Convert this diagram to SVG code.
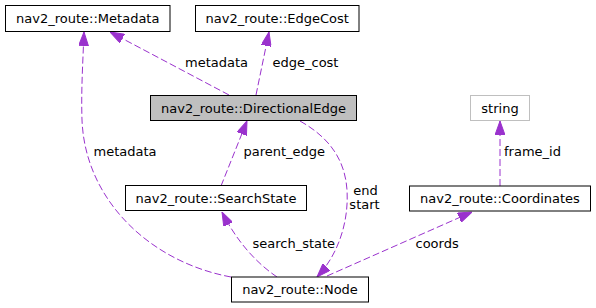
<svg xmlns="http://www.w3.org/2000/svg" width="596" height="308" viewBox="0 0 596 308">
<style>
.box{fill:#ffffff;stroke:#000000;stroke-width:1}
.hl{fill:#bfbfbf;stroke:#000000;stroke-width:1}
.ext{fill:#ffffff;stroke:#bfbfbf;stroke-width:1}
text{font-family:"DejaVu Sans",sans-serif;font-size:13px;fill:#000000}
.c{text-anchor:middle}
.e{fill:none;stroke:#9a32cd;stroke-width:1;stroke-dasharray:7,3;marker-end:url(#ah)}
</style>
<defs>
<marker id="ah" viewBox="0 0 14 10" refX="14" refY="5" markerWidth="14" markerHeight="10" markerUnits="userSpaceOnUse" orient="auto">
<path d="M0,0 L14,5 L0,10 Z" fill="#9a32cd" stroke="#9a32cd" stroke-width="1"/>
</marker>
</defs>
<rect width="596" height="308" fill="#ffffff"/>
<g id="connectors">
<path class="e" d="M229,95 L110,32"/>
<text x="185" y="66.5">metadata</text>
<path class="e" d="M256,95 L269,32"/>
<text x="272.5" y="66.5">edge_cost</text>
<path class="e" d="M221,186 L247,121"/>
<text x="243.5" y="156">parent_edge</text>
<path class="e" d="M277,277 C255,262 236,240 222,212"/>
<text x="252.5" y="247.5">search_state</text>
<path class="e" d="M231,277 C150,262 85,200 82,120 C81,90 83,60 84,32"/>
<text x="93.5" y="156">metadata</text>
<path class="e" d="M300,121 C330,138 345,160 347,190 C349,222 338,255 317,277"/>
<text class="c" x="365.5" y="195">end</text>
<text class="c" x="364.5" y="209">start</text>
<path class="e" d="M327,276 L472,212"/>
<text x="415.5" y="247.5">coords</text>
<path class="e" d="M500,186 L500,121"/>
<text x="504" y="156">frame_id</text>
</g>
<g id="node-metadata">
<rect class="box" x="5.5" y="5.5" width="164.5" height="26"/>
<text class="c" x="87.75" y="22.5">nav2_route::Metadata</text>
</g>
<g id="node-edgecost">
<rect class="box" x="195.5" y="5.5" width="163.5" height="26"/>
<text class="c" x="277.25" y="22.5">nav2_route::EdgeCost</text>
</g>
<g id="node-directionaledge">
<rect class="hl" x="150.5" y="95.5" width="206" height="25"/>
<text class="c" x="253.5" y="112.5">nav2_route::DirectionalEdge</text>
</g>
<g id="node-string">
<rect class="ext" x="470.5" y="95.5" width="59" height="25"/>
<text class="c" x="500" y="112.5">string</text>
</g>
<g id="node-searchstate">
<rect class="box" x="125.5" y="185.5" width="181" height="25"/>
<text class="c" x="216" y="202.5">nav2_route::SearchState</text>
</g>
<g id="node-coordinates">
<rect class="box" x="409.5" y="186" width="181" height="25"/>
<text class="c" x="500" y="203">nav2_route::Coordinates</text>
</g>
<g id="node-node">
<rect class="box" x="231.5" y="277" width="137" height="25"/>
<text class="c" x="300" y="294">nav2_route::Node</text>
</g>
</svg>
